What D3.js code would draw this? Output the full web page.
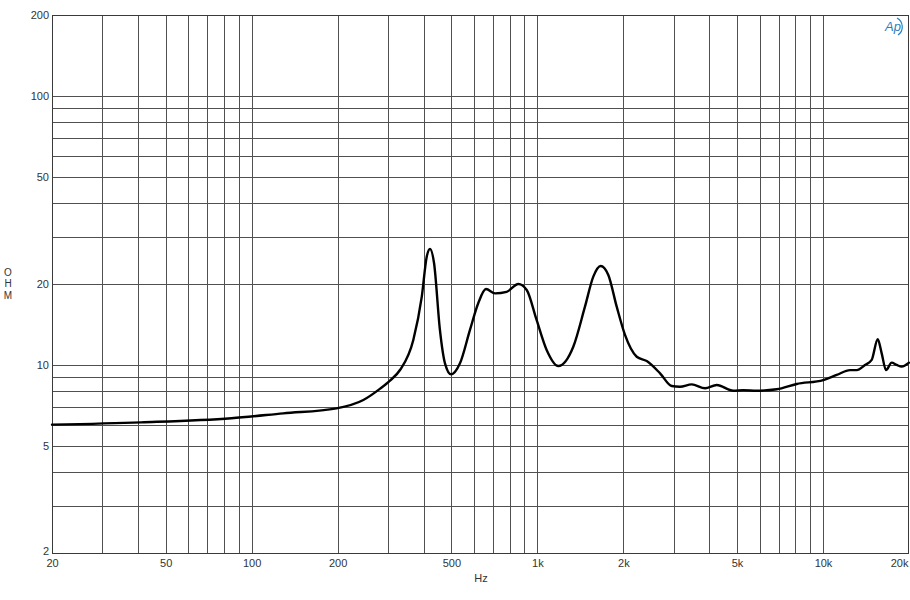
<!DOCTYPE html>
<html>
<head>
<meta charset="utf-8">
<script src="https://cdn.jsdelivr.net/npm/d3@7"></script>
<style>
  html, body { margin: 0; padding: 0; background: #fff; }
  svg { display: block; }
  text { font-family: Arial, "Liberation Sans", sans-serif; }
</style>
</head>
<body>
<svg id="chart" width="910" height="600"></svg>
<script>
// ---- data ----
const freqHz = [20, 41, 85, 129, 198, 246, 281, 305, 331, 368, 394, 410, 421, 435, 456, 475, 499, 536, 581, 621,
  661, 711, 781, 858, 918, 994, 1078, 1184, 1336, 1468, 1570, 1666, 1772, 1896, 2027, 2228, 2415, 2689, 2954, 3158,
  3470, 3864, 4246, 4854, 5260, 5861, 6887, 8090, 10020, 11166, 12434, 13120, 14030, 14806, 15540, 16048, 16616,
  17396, 18114, 18856, 20000];
const impedanceOhm = [6.0, 6.12, 6.34, 6.61, 6.9, 7.41, 8.15, 8.75, 9.6, 12.39, 17.95, 25.27, 27.0, 23.88, 13.5, 10.14, 9.23, 10.14, 13.5, 16.96,
  19.15, 18.46, 18.7, 20.0, 19.0, 14.7, 11.37, 9.91, 11.69, 16.47, 21.3, 23.33, 21.6, 16.47, 12.93, 10.73, 10.34, 9.31, 8.35, 8.3,
  8.47, 8.19, 8.43, 8.02, 8.05, 8.02, 8.12, 8.5, 8.79, 9.18, 9.57, 9.57, 10.0, 10.44, 12.46, 11.05, 9.57,
  10.2, 10.0, 9.86, 10.2];
const xTickValues = [20, 50, 100, 200, 500, 1000, 2000, 5000, 10000, 20000];
const xTickLabels = ["20", "50", "100", "200", "500", "1k", "2k", "5k", "10k", "20k"];
const yTickValues = [2, 5, 10, 20, 50, 100, 200];
const yTickLabels = ["2", "5", "10", "20", "50", "100", "200"];
const xLabel = "Hz";
const yLabel = ["O", "H", "M"];

// ---- layout ----
const L = 52, R = 909, T = 15, B = 553;
const svg = d3.select("#chart");
const x = d3.scaleLog().domain([20, 20000]).range([L, R]);
const y = d3.scaleLog().domain([2, 200]).range([B, T]);

// grid lines at every 1..9 multiple per decade
const xGrid = [];
for (let d = 10; d <= 10000; d *= 10) for (let m = 1; m <= 9; m++) { const v = d * m; if (v > 20 && v < 20000) xGrid.push(v); }
const yGrid = [];
for (let d = 1; d <= 100; d *= 10) for (let m = 1; m <= 9; m++) { const v = d * m; if (v > 2 && v < 200) yGrid.push(v); }

const gridColor = "#505050";
svg.append("g").selectAll("line").data(xGrid).join("line")
  .attr("x1", d => Math.round(x(d)) + 0.5).attr("x2", d => Math.round(x(d)) + 0.5)
  .attr("y1", T).attr("y2", B)
  .attr("stroke", gridColor).attr("stroke-width", 1);
svg.append("g").selectAll("line").data(yGrid).join("line")
  .attr("y1", d => Math.round(y(d)) + 0.5).attr("y2", d => Math.round(y(d)) + 0.5)
  .attr("x1", L).attr("x2", R)
  .attr("stroke", gridColor).attr("stroke-width", 1);

// frame
svg.append("rect").attr("x", L + 0.5).attr("y", T + 0.5).attr("width", R - L - 1).attr("height", B - T)
  .attr("fill", "none").attr("stroke", "#3a3a3a").attr("stroke-width", 1);

// axes labels (tick text)
const xAxis = d3.axisBottom(x).tickValues(xTickValues)
  .tickFormat((d, i) => xTickLabels[i]).tickSize(0).tickPadding(6);
const gx = svg.append("g").attr("transform", `translate(0,${B})`).call(xAxis);
gx.select(".domain").remove();
gx.selectAll("text").attr("font-size", 11).attr("fill", "#333").attr("font-family", "Arial, 'Liberation Sans', sans-serif");
gx.selectAll(".tick").filter(d => d === 20000).select("text")
  .attr("text-anchor", "end").attr("x", -1);

const yAxis = d3.axisLeft(y).tickValues(yTickValues)
  .tickFormat((d, i) => yTickLabels[i]).tickSize(0).tickPadding(3);
const gy = svg.append("g").attr("transform", `translate(${L},0)`).call(yAxis);
gy.select(".domain").remove();
gy.selectAll("text").attr("font-size", 11).attr("fill", "#333").attr("font-family", "Arial, 'Liberation Sans', sans-serif");
gy.selectAll(".tick").filter(d => d === 2).select("text").attr("dy", "0.1em");

// axis titles
svg.append("text").attr("x", 481).attr("y", 582).attr("text-anchor", "middle")
  .attr("font-size", 11).attr("fill", "#333").text(xLabel);
svg.append("g").selectAll("text").data(yLabel).join("text")
  .attr("x", 8).attr("y", (d, i) => 275.5 + i * 11.7).attr("text-anchor", "middle")
  .attr("font-size", 10).attr("fill", "#333").text(d => d);

// curve
const pts = freqHz.map((f, i) => [f, impedanceOhm[i]]);
const line = d3.line().x(d => x(d[0])).y(d => y(d[1])).curve(d3.curveMonotoneX);
svg.append("path").datum(pts).attr("d", line)
  .attr("fill", "none").attr("stroke", "#000").attr("stroke-width", 2.4)
  .attr("stroke-linejoin", "round").attr("stroke-linecap", "round");

// Ap logo
const logo = svg.append("g").attr("transform", "translate(893,27)");
logo.append("path").attr("d", "M 4 -9 A 10 10 0 0 1 5 8")
  .attr("fill", "none").attr("stroke", "#2a7fc0").attr("stroke-width", 1.2);
logo.append("text").attr("x", 0).attr("y", 4).attr("text-anchor", "middle")
  .attr("font-size", 13).attr("font-style", "italic").attr("fill", "#2a7fc0").text("Ap");
</script>
</body>
</html>
